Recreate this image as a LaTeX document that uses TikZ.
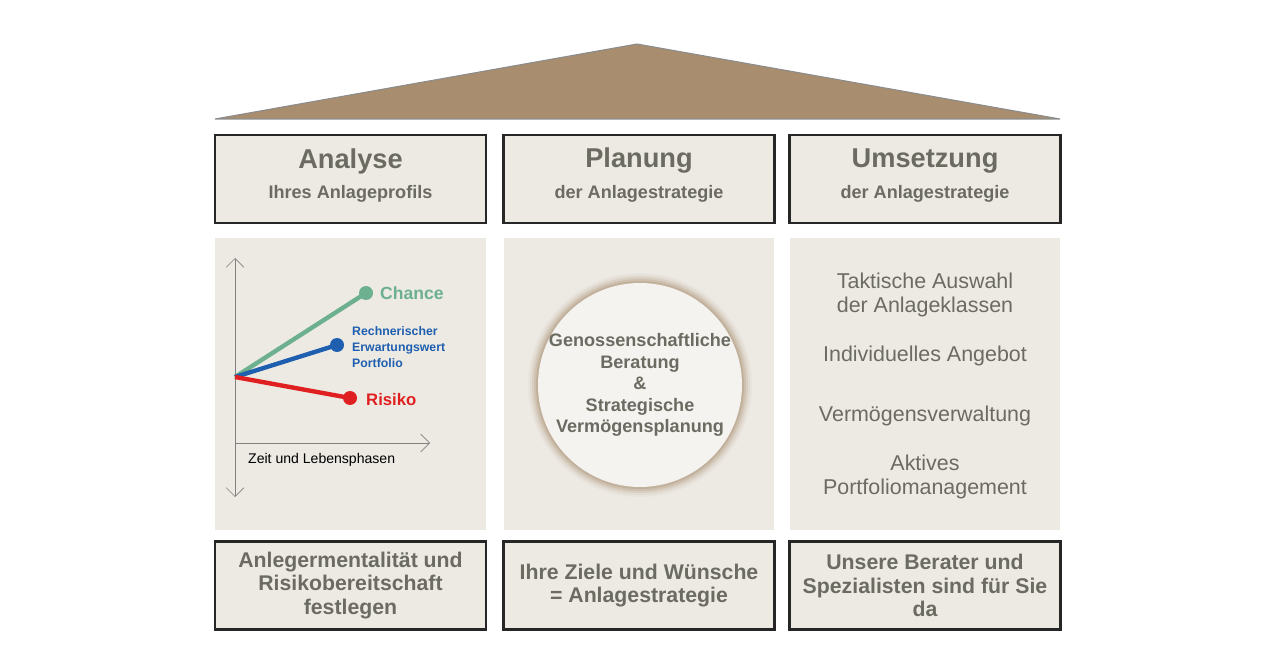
\documentclass[tikz,border=0pt]{standalone}
\usepackage{fontspec}
\setmainfont{Liberation Sans}
\usetikzlibrary{arrows.meta}
\definecolor{panel}{HTML}{EDEAE4}
\definecolor{roof}{HTML}{A88D6E}
\definecolor{txt}{HTML}{6B6B62}
\definecolor{chance}{HTML}{6DB08F}
\definecolor{erw}{HTML}{1F5FAF}
\definecolor{risk}{HTML}{E02020}
\begin{document}
\begin{tikzpicture}[x=0.02cm,y=-0.02cm,>=stealth]
    \tikzstyle{box}=[draw=black!85,line width=1.2pt,fill=panel,minimum width=5.42cm,minimum height=1.76cm,align=center,text=txt,font=\bfseries\fontsize{12.1}{13.3}\selectfont]
    \tikzstyle{panelbox}=[fill=panel,minimum width=5.42cm,minimum height=5.84cm,inner sep=0pt]
    \tikzstyle{title}=[text=txt,font=\bfseries\fontsize{15.5}{17}\selectfont]
    \tikzstyle{sub}=[text=txt,font=\bfseries\fontsize{10.3}{11}\selectfont]
    \tikzstyle{item}=[text=txt,align=center,font=\fontsize{12.2}{13.5}\selectfont]
    \useasboundingbox (0,0) rectangle (1280,668);

    % Roof
    \filldraw[fill=roof,draw=black!45,line width=0.6pt] (215,119) -- (637,44) -- (1060,119) -- cycle;

    % Header boxes
    \foreach \name/\x/\t/\s in {A/350.5/Analyse/Ihres Anlageprofils,
                                P/639/Planung/der Anlagestrategie,
                                U/925/Umsetzung/der Anlagestrategie} {
        \node[box] (\name-head) at (\x,179) {};
        \node[title] (\name-title) at (\x,161) {\t};
        \node[sub] (\name-sub) at (\x,194) {\s};
        \node[panelbox] (\name-mid) at (\x,384) {};
    }

    % Footer boxes
    \node[box] (A-foot) at (350.5,585.5) {Anlegermentalität und\\Risikobereitschaft\\festlegen};
    \node[box] (P-foot) at (639,585.5) {Ihre Ziele und Wünsche\\= Anlagestrategie};
    \node[box] (U-foot) at (925,585.5) {Unsere Berater und\\Spezialisten sind für Sie\\da};

    % Chart
    \coordinate (o) at (235,377);
    \coordinate (ytop) at (235,258);
    \coordinate (ybot) at (235,497);
    \coordinate (xl) at (235,443);
    \coordinate (xr) at (430,443);
    \draw[gray,{Straight Barb[length=5pt]}-{Straight Barb[length=5pt]}] (ybot) -- (ytop);
    \draw[gray,-{Straight Barb[length=5pt]}] (xl) -- (xr);
    \node[anchor=west,font=\fontsize{8}{9}\selectfont] (zeit) at (242,460) {Zeit und Lebensphasen};
    \coordinate (c) at (366,293);
    \coordinate (e) at (337,345);
    \coordinate (r) at (350,398);
    \draw[chance,line width=2.5pt] (o) -- (c);
    \draw[erw,line width=2.5pt] (o) -- (e);
    \draw[risk,line width=2.5pt] (o) -- (r);
    \fill[chance] (c) circle (7);
    \fill[erw] (e) circle (7);
    \fill[risk] (r) circle (7);
    \node[anchor=west,text=chance,font=\bfseries\fontsize{10}{12}\selectfont] (cl) at (374,293) {Chance};
    \node[anchor=west,text=erw,align=left,font=\bfseries\fontsize{7}{9}\selectfont] (el) at (346,347) {Rechnerischer\\Erwartungswert\\Portfolio};
    \node[anchor=west,text=risk,font=\bfseries\fontsize{9.5}{11}\selectfont] (rl) at (360,400) {Risiko};

    % Circle with glow
    \foreach \r/\op in {112/0.06,110/0.1,108/0.15,106/0.22,104/0.3} {
        \fill[roof,opacity=\op] (640,385) circle (\r);
    }
    \fill[panel!60!white] (640,385) circle (102);
    \node[text=txt,align=center,font=\bfseries\fontsize{10.3}{12.2}\selectfont] (beratung) at (640,385)
        {Genossenschaftliche\\Beratung\\\&\\Strategische\\Vermögensplanung};

    % Right column
    \node[item] (taktik) at (925,295) {Taktische Auswahl\\der Anlageklassen};
    \node[item] (angebot) at (925,356) {Individuelles Angebot};
    \node[item] (verw) at (925,416) {Vermögensverwaltung};
    \node[item] (aktiv) at (925,477) {Aktives\\Portfoliomanagement};
\end{tikzpicture}
\end{document}
